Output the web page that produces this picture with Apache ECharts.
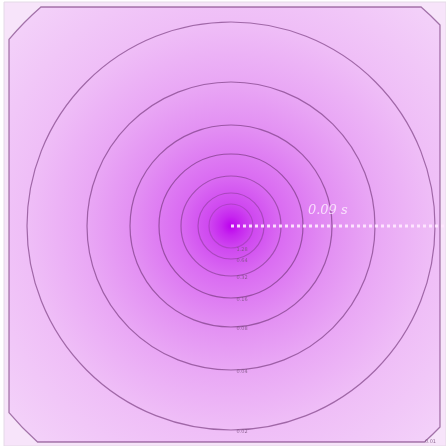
<!DOCTYPE html>
<html>
<head>
<meta charset="utf-8">
<script src="https://cdn.jsdelivr.net/npm/echarts@6/dist/echarts.min.js"></script>
<style>
  html, body { margin: 0; padding: 0; background: #ffffff; }
  #chart { width: 446px; height: 446px; }
</style>
</head>
<body>
<div id="chart"></div>
<script>
// Point source at the origin; intensity contours (labels) and their radii in metres
const contourLevels = ['0.01', '0.02', '0.04', '0.08', '0.16', '0.32', '0.64', '1.28'];
const contourRadii = [1.45, 1.02, 0.72, 0.505, 0.36, 0.25, 0.165, 0.11];
const sourcePoint = [0, 0];
// Travel path drawn from the source to the right-hand edge
const pathLength = 1.075;
const pathLabel = '0.09 s';

// View window and the extent of the computed field
const xRange = [-1.135, 1.075];
const yRange = [-1.105, 1.125];
const fieldX = [-1.11, 1.045];
const fieldY = [-1.085, 1.10];

const fieldStops = [
  { offset: 0.00, color: '#bc00ee' },
  { offset: 0.03, color: '#c626ef' },
  { offset: 0.07, color: '#cf48f0' },
  { offset: 0.16, color: '#da6cf2' },
  { offset: 0.32, color: '#e391f3' },
  { offset: 0.45, color: '#e9a7f5' },
  { offset: 0.64, color: '#efbef7' },
  { offset: 0.90, color: '#f3d0f9' },
  { offset: 1.00, color: '#f5d8fa' }
];

// Outline of the field square cut by a circle of pixel radius R around the source
function clippedSquarePath(api, R) {
  const c = api.coord(sourcePoint);
  const tl = api.coord([fieldX[0], fieldY[1]]);
  const br = api.coord([fieldX[1], fieldY[0]]);
  const x0 = tl[0], y0 = tl[1], x1 = br[0], y1 = br[1];
  const half = d => Math.sqrt(Math.max(R * R - d * d, 0));
  const dT = half(c[1] - y0), dB = half(y1 - c[1]);
  const dL = half(c[0] - x0), dR = half(x1 - c[0]);
  const arc = (x, y) => `A ${R} ${R} 0 0 1 ${x} ${y}`;
  return {
    d: `M ${c[0] - dT} ${y0} L ${c[0] + dT} ${y0} ${arc(x1, c[1] - dR)} ` +
       `L ${x1} ${c[1] + dR} ${arc(c[0] + dB, y1)} L ${c[0] - dB} ${y1} ` +
       `${arc(x0, c[1] + dL)} L ${x0} ${c[1] - dL} ${arc(c[0] - dT, y0)} Z`,
    bottomRight: [c[0] + dB, y1]
  };
}

// inner contours fade into the bright core
const lineAlpha = i => (i < 5 ? 0.62 : 0.62 - (i - 4) * 0.1);
const labelColor = 'rgba(120, 80, 125, 0.8)';

const chart = echarts.init(document.getElementById('chart'), null, { renderer: 'canvas' });
chart.setOption({
  animation: false,
  grid: {
    left: 4, top: 2, right: 0, bottom: 0,
    show: true,
    backgroundColor: '#f7e4fa',
    borderColor: '#e4dae6',
    borderWidth: 1
  },
  xAxis: { type: 'value', min: xRange[0], max: xRange[1], show: false },
  yAxis: { type: 'value', min: yRange[0], max: yRange[1], show: false },
  series: [
    {
      // shaded field inside the outermost contour
      type: 'custom',
      z: 1,
      data: [[contourRadii[0], 0]],
      renderItem: (params, api) => {
        const c = api.coord(sourcePoint);
        const R = api.size([api.value(0), 0])[0];
        const corner = api.coord([xRange[0], yRange[0]]);
        const reach = Math.hypot(corner[0] - c[0], corner[1] - c[1]);
        const shape = clippedSquarePath(api, R);
        return {
          type: 'path',
          shape: { pathData: shape.d },
          style: {
            fill: {
              type: 'radial', x: c[0], y: c[1], r: Math.max(reach, R * 1.1), global: true,
              colorStops: fieldStops
            },
            stroke: null
          }
        };
      }
    },
    {
      // contour lines with their level labels
      type: 'custom',
      z: 3,
      data: contourRadii.map((r, i) => [r, i]),
      renderItem: (params, api) => {
        const i = params.dataIndex;
        const c = api.coord(sourcePoint);
        const R = api.size([api.value(0), 0])[0];
        const stroke = `rgba(112, 50, 118, ${lineAlpha(i)})`;
        const children = [];
        let labelAt;
        if (i === 0) {
          const shape = clippedSquarePath(api, R);
          children.push({
            type: 'path',
            shape: { pathData: shape.d },
            style: { fill: null, stroke, lineWidth: 1.3 }
          });
          labelAt = [shape.bottomRight[0] + 6, shape.bottomRight[1]];
        } else {
          children.push({
            type: 'circle',
            shape: { cx: c[0], cy: c[1], r: R },
            style: { fill: null, stroke, lineWidth: 1.2 }
          });
          labelAt = [c[0] + 11, c[1] + R + 2];
        }
        children.push({
          type: 'text',
          x: labelAt[0], y: labelAt[1],
          style: {
            text: contourLevels[i],
            fill: labelColor,
            fontSize: 5,
            fontFamily: 'DejaVu Sans',
            align: 'center',
            verticalAlign: 'middle'
          }
        });
        return { type: 'group', children };
      }
    },
    {
      // travel path from the source
      type: 'line',
      z: 4,
      symbol: 'none',
      data: [sourcePoint, [pathLength, 0]],
      lineStyle: { color: 'rgba(255, 232, 255, 0.92)', width: 3, type: [3, 3] },
      silent: true
    },
    {
      type: 'custom',
      z: 5,
      data: [[pathLength * 0.45, 0]],
      renderItem: (params, api) => {
        const p = api.coord([api.value(0), api.value(1)]);
        return {
          type: 'text',
          x: p[0], y: p[1] - 15,
          style: {
            text: pathLabel,
            fill: 'rgba(255, 242, 255, 0.8)',
            fontSize: 13,
            fontFamily: 'DejaVu Serif',
            fontStyle: 'italic',
            align: 'center',
            verticalAlign: 'middle'
          }
        };
      }
    }
  ]
});
</script>
</body>
</html>
